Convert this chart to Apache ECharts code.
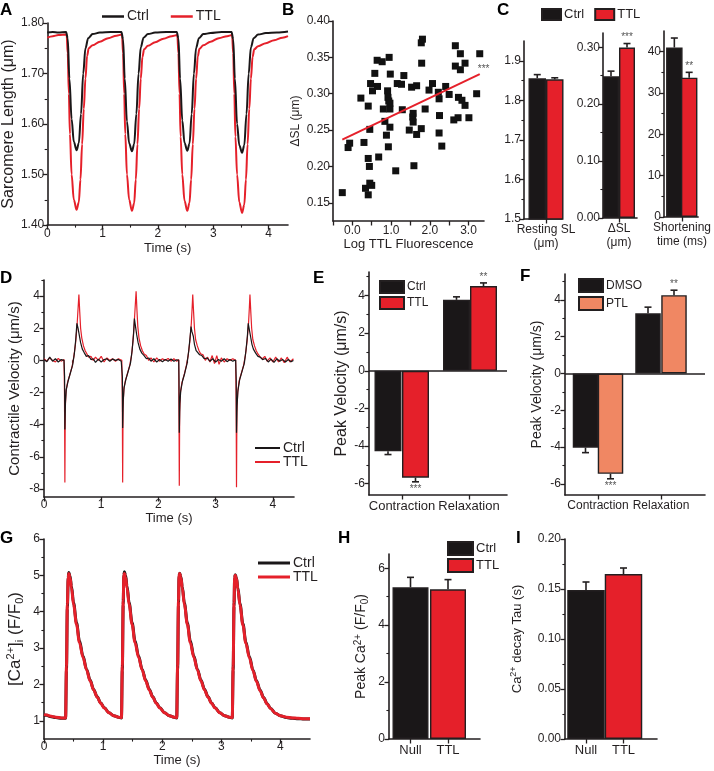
<!DOCTYPE html>
<html><head><meta charset="utf-8">
<script src="https://cdn.jsdelivr.net/npm/echarts@6/dist/echarts.min.js"></script>
<style>html,body{margin:0;padding:0;background:#fff}#c{width:714px;height:771px}</style>
</head><body><div id="c"></div>
<script>
// ================= DATA =================
// A: sarcomere length traces [time s, SL um]
const aCtrl = [[0,1.781],[0.10,1.782],[0.20,1.781],[0.34,1.782],[0.37,1.770],[0.40,1.69],[0.44,1.61],[0.48,1.565],[0.53,1.548],[0.57,1.562],[0.61,1.62],[0.65,1.70],[0.69,1.75],[0.74,1.770],[0.82,1.778],[0.95,1.781],[1.15,1.782],[1.34,1.782],
[1.37,1.768],[1.40,1.69],[1.44,1.605],[1.48,1.562],[1.53,1.546],[1.57,1.560],[1.61,1.62],[1.65,1.70],[1.69,1.752],[1.74,1.771],[1.82,1.778],[1.95,1.781],[2.15,1.782],[2.34,1.782],
[2.37,1.770],[2.40,1.69],[2.44,1.607],[2.48,1.563],[2.53,1.547],[2.57,1.561],[2.61,1.62],[2.65,1.70],[2.69,1.751],[2.74,1.770],[2.82,1.778],[2.95,1.780],[3.15,1.782],[3.33,1.782],
[3.36,1.768],[3.39,1.69],[3.43,1.60],[3.47,1.558],[3.52,1.543],[3.56,1.558],[3.60,1.62],[3.64,1.70],[3.68,1.752],[3.73,1.770],[3.81,1.777],[3.95,1.780],[4.15,1.781],[4.35,1.783]];
const aTTL = [[0,1.771],[0.10,1.774],[0.20,1.776],[0.35,1.777],[0.37,1.74],[0.39,1.66],[0.41,1.58],[0.44,1.50],[0.48,1.45],[0.53,1.430],[0.57,1.445],[0.60,1.49],[0.63,1.56],[0.66,1.63],[0.69,1.69],[0.72,1.735],[0.75,1.750],[0.82,1.756],[0.95,1.763],[1.10,1.770],[1.25,1.775],[1.35,1.777],
[1.37,1.74],[1.39,1.66],[1.41,1.58],[1.44,1.50],[1.48,1.45],[1.53,1.428],[1.57,1.443],[1.60,1.49],[1.63,1.56],[1.66,1.63],[1.69,1.69],[1.72,1.733],[1.75,1.748],[1.82,1.755],[1.95,1.762],[2.10,1.769],[2.25,1.774],[2.35,1.776],
[2.37,1.74],[2.39,1.66],[2.41,1.575],[2.44,1.50],[2.48,1.448],[2.53,1.428],[2.57,1.444],[2.60,1.49],[2.63,1.56],[2.66,1.63],[2.69,1.69],[2.72,1.734],[2.75,1.749],[2.82,1.756],[2.95,1.763],[3.10,1.770],[3.25,1.774],[3.34,1.776],
[3.36,1.74],[3.38,1.66],[3.40,1.575],[3.43,1.50],[3.47,1.445],[3.52,1.424],[3.56,1.440],[3.59,1.49],[3.62,1.56],[3.65,1.63],[3.68,1.69],[3.71,1.733],[3.74,1.748],[3.81,1.754],[3.95,1.760],[4.10,1.766],[4.25,1.771],[4.35,1.774]];

// B: scatter
const bLogTTL = [-0.26,-0.11,-0.07,0.22,0.30,0.34,0.41,0.41,0.41,0.44,0.45,0.47,0.45,0.50,0.52,0.58,0.64,0.65,0.68,0.77,0.80,0.84,0.88,0.91,0.92,0.93,0.95,0.94,0.97,0.98,0.97,0.97,1.12,1.16,1.27,1.29,1.33,1.47,1.53,1.56,1.57,1.59,1.57,1.66,1.66,1.78,1.78,1.81,1.79,1.88,1.98,2.07,2.22,2.24,2.25,2.24,2.31,2.41,2.50,2.62,2.66,2.66,2.73,2.74,2.79,2.79,2.83,2.91,2.91,3.01,3.29,3.21];
const bDeltaSL = [0.164,0.226,0.232,0.294,0.233,0.170,0.161,0.211,0.283,0.200,0.251,0.314,0.177,0.174,0.304,0.328,0.346,0.310,0.213,0.344,0.279,0.262,0.243,0.304,0.295,0.227,0.350,0.290,0.279,0.327,0.254,0.287,0.194,0.314,0.313,0.278,0.325,0.250,0.309,0.268,0.273,0.201,0.261,0.244,0.311,0.252,0.370,0.375,0.342,0.279,0.305,0.314,0.302,0.293,0.270,0.246,0.228,0.310,0.299,0.264,0.366,0.338,0.267,0.295,0.355,0.333,0.291,0.342,0.284,0.267,0.355,0.300];
const bFit = [[-0.26,0.237],[3.29,0.327]];
const bFitSig = '***';

// C: bar summaries
const cMeasures = ['Resting SL\n(μm)', 'ΔSL\n(μm)', 'Shortening\ntime (ms)'];
const cCtrl = [1.856, 0.249, 41.0];
const cCtrlErr = [0.009, 0.009, 2.3];
const cTTL = [1.853, 0.2995, 33.7];
const cTTLErr = [0.004, 0.007, 1.3];
const cSig = ['', '***', '**'];

// D: contractile velocity traces [time s, um/s]
const dCtrl = [[0,0.05],[0.05,-0.08],[0.1,0.2],[0.15,-0.05],[0.2,0.1],[0.25,-0.1],[0.3,0.05],[0.35,0.0],
[0.36,-1.0],[0.365,-4.3],[0.375,-2.6],[0.39,-1.8],[0.42,-1.3],[0.46,-0.8],[0.50,-0.3],[0.53,0.4],[0.555,1.3],[0.575,2.3],[0.595,2.0],[0.615,1.6],[0.64,1.1],[0.67,0.7],[0.70,0.5],[0.74,0.25],[0.78,0.3],[0.82,0.05],[0.86,0.1],[0.9,-0.12],[0.95,0.08],[1.0,-0.1],[1.05,0.05],[1.1,0.1],[1.15,-0.06],[1.2,0.08],[1.25,0.0],[1.3,0.06],[1.35,-0.05],
[1.37,-1.0],[1.375,-4.2],[1.385,-2.5],[1.40,-1.7],[1.43,-1.2],[1.47,-0.7],[1.51,-0.2],[1.54,0.6],[1.565,1.6],[1.58,2.6],[1.60,2.1],[1.62,1.6],[1.645,1.1],[1.675,0.7],[1.71,0.45],[1.75,0.3],[1.79,0.1],[1.83,0.15],[1.87,-0.05],[1.92,0.1],[1.97,-0.1],[2.02,0.05],[2.07,-0.08],[2.12,0.06],[2.17,-0.05],[2.22,0.08],[2.27,-0.06],[2.32,0.04],[2.355,0.0],
[2.36,-1.2],[2.365,-4.5],[2.375,-2.7],[2.39,-1.9],[2.42,-1.3],[2.46,-0.8],[2.50,-0.2],[2.53,0.6],[2.555,1.5],[2.57,2.1],[2.585,1.8],[2.61,1.5],[2.63,1.0],[2.66,0.6],[2.69,0.7],[2.72,0.35],[2.76,0.3],[2.80,0.1],[2.85,0.15],[2.9,-0.05],[2.95,0.1],[3.0,-0.1],[3.05,0.05],[3.1,-0.05],[3.15,0.1],[3.2,-0.08],[3.25,0.05],[3.3,-0.05],[3.35,0.02],
[3.36,-1.2],[3.365,-4.5],[3.375,-2.8],[3.39,-1.9],[3.42,-1.2],[3.46,-0.7],[3.50,-0.2],[3.53,0.6],[3.555,1.5],[3.57,2.3],[3.59,1.9],[3.61,1.5],[3.635,1.0],[3.66,0.7],[3.70,0.45],[3.74,0.25],[3.78,0.2],[3.82,0.05],[3.87,0.12],[3.92,-0.1],[3.97,0.08],[4.02,-0.12],[4.07,0.1],[4.12,-0.05],[4.17,0.06],[4.22,-0.1],[4.27,0.05],[4.32,-0.08],[4.36,0.0]];
const dTTL = [[0,0.1],[0.05,-0.05],[0.1,0.15],[0.15,0.0],[0.2,-0.1],[0.25,0.12],[0.3,-0.05],[0.35,0.05],
[0.358,-2.0],[0.365,-7.6],[0.372,-3.0],[0.385,-1.9],[0.41,-1.4],[0.45,-0.9],[0.49,-0.4],[0.52,0.2],[0.55,1.0],[0.575,2.0],[0.595,3.2],[0.61,4.1],[0.625,3.0],[0.64,2.0],[0.66,1.4],[0.69,0.9],[0.72,0.6],[0.75,0.5],[0.78,0.2],[0.82,0.25],[0.86,0.0],[0.9,0.2],[0.95,0.0],[1.0,0.25],[1.05,-0.1],[1.1,0.15],[1.15,0.0],[1.2,0.1],[1.25,-0.05],[1.3,0.1],[1.36,0.0],
[1.368,-2.0],[1.375,-7.6],[1.382,-3.0],[1.395,-1.8],[1.42,-1.3],[1.46,-0.8],[1.50,-0.3],[1.53,0.3],[1.555,1.2],[1.575,2.2],[1.595,3.4],[1.61,4.3],[1.625,3.1],[1.64,2.1],[1.66,1.4],[1.69,0.9],[1.72,0.6],[1.75,0.4],[1.79,0.3],[1.83,0.0],[1.87,0.15],[1.92,-0.1],[1.97,0.15],[2.02,-0.05],[2.07,0.1],[2.12,0.0],[2.17,0.12],[2.22,-0.05],[2.27,0.1],[2.32,-0.05],[2.355,0.05],
[2.358,-2.2],[2.365,-7.8],[2.372,-3.2],[2.385,-2.0],[2.41,-1.4],[2.45,-0.9],[2.49,-0.3],[2.52,0.3],[2.55,1.2],[2.575,2.3],[2.59,3.3],[2.60,4.1],[2.615,3.0],[2.63,2.0],[2.65,1.3],[2.68,0.9],[2.71,0.6],[2.74,0.4],[2.78,0.35],[2.82,0.0],[2.86,0.2],[2.9,-0.1],[2.94,0.3],[2.98,-0.2],[3.02,0.3],[3.06,-0.25],[3.1,0.15],[3.15,-0.1],[3.2,0.1],[3.25,0.0],[3.3,0.1],[3.35,0.0],
[3.358,-2.2],[3.365,-7.9],[3.372,-3.2],[3.385,-2.0],[3.41,-1.3],[3.45,-0.8],[3.49,-0.3],[3.52,0.3],[3.55,1.2],[3.575,2.3],[3.59,3.3],[3.60,4.1],[3.615,3.0],[3.63,2.0],[3.65,1.3],[3.68,0.9],[3.71,0.6],[3.74,0.4],[3.78,0.2],[3.82,0.1],[3.86,0.25],[3.9,-0.05],[3.95,0.15],[4.0,-0.1],[4.05,0.2],[4.1,-0.1],[4.15,0.15],[4.2,-0.15],[4.25,0.2],[4.3,-0.1],[4.36,0.1]];

// E: peak velocity (Ctrl vs TTL)
const eCategories = ['Contraction', 'Relaxation'];
const eCtrl = [-4.28, 3.77];
const eCtrlErr = [0.17, 0.16];
const eTTL = [-5.68, 4.5];
const eTTLErr = [0.22, 0.17];
const eSig = ['***', '**'];

// F: peak velocity (DMSO vs PTL)
const fCategories = ['Contraction', 'Relaxation'];
const fDMSO = [-4.03, 3.27];
const fDMSOErr = [0.27, 0.33];
const fPTL = [-5.45, 4.25];
const fPTLErr = [0.27, 0.27];
const fSig = ['***', '**'];

// G: calcium transients [time s, F/F0]
const gCtrl = [[0,1.16],[0.05,1.15],[0.1,1.12],[0.2,1.09],[0.3,1.07],[0.365,1.07],[0.38,2.4],[0.395,4.1],[0.41,4.95],[0.42,5.08],[0.44,4.98],[0.465,4.7],[0.50,4.25],[0.55,3.7],[0.60,3.2],[0.66,2.78],[0.72,2.42],[0.78,2.12],[0.84,1.86],[0.90,1.66],[0.96,1.49],[1.02,1.36],[1.1,1.22],[1.18,1.14],[1.26,1.1],[1.31,1.08],
[1.325,2.4],[1.34,4.2],[1.35,5.0],[1.36,5.1],[1.38,5.0],[1.405,4.7],[1.44,4.25],[1.49,3.7],[1.54,3.2],[1.60,2.78],[1.66,2.42],[1.72,2.12],[1.78,1.87],[1.84,1.66],[1.90,1.49],[1.96,1.36],[2.04,1.22],[2.12,1.14],[2.20,1.1],[2.245,1.08],
[2.26,2.4],[2.275,4.2],[2.285,4.98],[2.295,5.06],[2.315,4.97],[2.34,4.68],[2.375,4.24],[2.425,3.69],[2.475,3.2],[2.535,2.78],[2.595,2.42],[2.655,2.12],[2.715,1.87],[2.775,1.66],[2.835,1.49],[2.895,1.36],[2.975,1.22],[3.055,1.14],[3.135,1.1],[3.185,1.08],
[3.2,2.4],[3.215,4.15],[3.225,4.93],[3.235,5.02],[3.255,4.94],[3.28,4.65],[3.315,4.22],[3.365,3.67],[3.415,3.17],[3.475,2.76],[3.535,2.4],[3.595,2.1],[3.655,1.85],[3.715,1.64],[3.775,1.47],[3.835,1.34],[3.915,1.21],[3.995,1.14],[4.1,1.09],[4.2,1.07],[4.3,1.06],[4.4,1.05],[4.5,1.05]];
const gTTL = [[0,1.17],[0.05,1.16],[0.1,1.13],[0.2,1.10],[0.3,1.08],[0.365,1.08],[0.38,2.5],[0.395,4.2],[0.41,4.95],[0.42,5.05],[0.44,4.95],[0.465,4.65],[0.50,4.2],[0.55,3.65],[0.60,3.15],[0.66,2.75],[0.72,2.4],[0.78,2.1],[0.84,1.85],[0.90,1.65],[0.96,1.48],[1.02,1.35],[1.1,1.22],[1.18,1.14],[1.26,1.1],[1.31,1.09],
[1.325,2.5],[1.34,4.3],[1.35,5.0],[1.36,5.05],[1.38,4.95],[1.405,4.65],[1.44,4.2],[1.49,3.65],[1.54,3.15],[1.60,2.75],[1.66,2.4],[1.72,2.1],[1.78,1.85],[1.84,1.65],[1.90,1.48],[1.96,1.35],[2.04,1.22],[2.12,1.14],[2.20,1.1],[2.245,1.09],
[2.26,2.5],[2.275,4.3],[2.285,5.0],[2.295,5.05],[2.315,4.95],[2.34,4.65],[2.375,4.2],[2.425,3.65],[2.475,3.15],[2.535,2.75],[2.595,2.4],[2.655,2.1],[2.715,1.85],[2.775,1.65],[2.835,1.48],[2.895,1.35],[2.975,1.22],[3.055,1.14],[3.135,1.1],[3.185,1.09],
[3.2,2.5],[3.215,4.25],[3.225,4.95],[3.235,5.0],[3.255,4.92],[3.28,4.62],[3.315,4.18],[3.365,3.63],[3.415,3.13],[3.475,2.73],[3.535,2.38],[3.595,2.08],[3.655,1.83],[3.715,1.63],[3.775,1.46],[3.835,1.33],[3.915,1.21],[3.995,1.14],[4.1,1.1],[4.2,1.08],[4.3,1.07],[4.4,1.06],[4.5,1.06]];

// H: peak Ca2+
const hCategories = ['Null', 'TTL'];
const hPeak = [5.33, 5.26];
const hPeakErr = [0.35, 0.34];

// I: Ca2+ decay tau
const iCategories = ['Null', 'TTL'];
const iTau = [0.149, 0.165];
const iTauErr = [0.008, 0.006];

// ================= STYLE / LAYOUT =================
const INK = '#231F20', RED = '#E5202A', SALMON = '#F08763', BLK = '#1A1718';
const REG = "'Liberation Sans',Arial,Helvetica,sans-serif";
const NARROW = REG;

const grids = [], xAxis = [], yAxis = [], series = [], legend = [], title = [];

function grid(l, t, w, h) { grids.push({left: l, top: t, width: w, height: h}); return grids.length - 1; }

function axis(dim, g, min, max, major, minor, o) {
  o = o || {};
  const arr = dim === 'x' ? xAxis : yAxis;
  const pos = dim === 'x' ? 'bottom' : 'left';
  const a = {
    type: 'value', gridIndex: g, min: min, max: max, position: pos,
    axisLine: {show: true, onZero: false, lineStyle: {color: INK, width: 1.6}},
    axisTick: {show: true, length: 4.5, customValues: major, lineStyle: {color: INK, width: 1.3}},
    minorTick: {show: false}, splitLine: {show: false},
    axisLabel: {show: !o.noLabels, customValues: o.labelValues || major, color: INK, fontFamily: NARROW,
      fontSize: o.fs || 12, margin: o.margin == null ? 3 : o.margin, formatter: o.fmt, lineHeight: o.lh,
      hideOverlap: false, showMinLabel: true, showMaxLabel: true}
  };
  if (o.name) {
    a.name = o.name; a.nameLocation = 'middle'; a.nameGap = o.gap;
    a.nameTextStyle = Object.assign({color: INK, fontFamily: REG, fontSize: o.nfs || 13}, o.nts || {});
  }
  arr.push(a);
  const idx = arr.length - 1;
  if (minor) {
    arr.push({type: 'value', gridIndex: g, min: min, max: max, position: pos,
      axisLine: {show: false}, axisLabel: {show: false}, splitLine: {show: false}, minorTick: {show: false},
      axisTick: {show: true, length: 2.6, customValues: minor, lineStyle: {color: INK, width: 1.1}}});
  }
  return idx;
}

function line(name, xi, yi, data, color, width, smooth) {
  series.push({name: name, type: 'line', xAxisIndex: xi, yAxisIndex: yi, data: data, symbol: 'none', showSymbol: false,
    smooth: smooth ? 0.35 : false, smoothMonotone: smooth ? 'x' : undefined,
    lineStyle: {color: color, width: width}, itemStyle: {color: color}, silent: true});
}

function bars(name, xi, yi, pos, vals, color, w, extra) {
  series.push(Object.assign({name: name, type: 'bar', xAxisIndex: xi, yAxisIndex: yi, barWidth: w, barGap: '-100%',
    data: vals.map((v, i) => [pos[i], v]), silent: true,
    itemStyle: {color: color, borderColor: INK, borderWidth: 1.4}}, extra || {}));
}

function errs(xi, yi, pos, vals, err, sig) {
  series.push({type: 'custom', xAxisIndex: xi, yAxisIndex: yi, z: 5, silent: true,
    data: vals.map((v, i) => [pos[i], v, v < 0 ? v - err[i] : v + err[i]]),
    renderItem: function (params, api) {
      const p0 = api.coord([api.value(0), api.value(1)]);
      const p1 = api.coord([api.value(0), api.value(2)]);
      const up = p1[1] < p0[1];
      const ch = [
        {type: 'line', shape: {x1: p0[0], y1: p0[1], x2: p1[0], y2: p1[1]}, style: {stroke: INK, lineWidth: 1.6}},
        {type: 'line', shape: {x1: p1[0] - 3.5, y1: p1[1], x2: p1[0] + 3.5, y2: p1[1]}, style: {stroke: INK, lineWidth: 1.6}}
      ];
      const s = sig ? sig[params.dataIndex] : '';
      if (s) ch.push({type: 'text', x: p1[0], y: up ? p1[1] - 1 : p1[1] + 2,
        style: {text: s, fill: '#555', font: '10px ' + REG, align: 'center', verticalAlign: up ? 'bottom' : 'top'}});
      return {type: 'group', children: ch};
    }});
}

function lg(o) {
  legend.push(Object.assign({show: true, selectedMode: false, padding: 0, formatter: n => n.slice(2),
    textStyle: {fontFamily: NARROW, fontSize: o.fs || 13, color: INK, lineHeight: o.lh || 15, padding: [0, 0, 0, -2]}}, o));
}

function letter(t, l, top) {
  title.push({text: t, left: l, top: top, padding: 0,
    textStyle: {fontFamily: REG, fontWeight: 'bold', fontSize: 17, color: '#000'}});
}

const range = (a, b, s) => { const r = []; for (let v = a; v <= b + 1e-9; v += s) r.push(Math.round(v * 1000) / 1000); return r; };
const labelMap = (pos, names) => (v => { const i = pos.findIndex(p => Math.abs(p - v) < 1e-6); return i < 0 ? '' : names[i]; });

// ---------- Panel A ----------
letter('A', 0, 2);
const gA = grid(42, 23, 246, 202);
const axA = axis('x', gA, 0, 4.35, [0,1,2,3,4], [0.5,1.5,2.5,3.5], {name: 'Time (s)', gap: 17, margin: 3});
const ayA = axis('y', gA, 1.40, 1.80, [1.4,1.5,1.6,1.7,1.8], [1.45,1.55,1.65,1.75],
  {fmt: v => v.toFixed(2), name: 'Sarcomere Length (μm)', gap: 29, nfs: 16});
line('A_TTL', axA, ayA, aTTL, RED, 2, true);
line('A_Ctrl', axA, ayA, aCtrl, BLK, 2, true);
lg({left: 102, top: 9, icon: 'rect', itemWidth: 22, itemHeight: 2.5, itemGap: 22, fs: 14, data: ['A_Ctrl', 'A_TTL']});

// ---------- Panel B ----------
letter('B', 282, 2);
const gB = grid(333, 21, 151, 200);
const axB = axis('x', gB, -0.5, 3.4, range(-0.5, 3.0, 0.5), null,
  {labelValues: [0,1,2,3], fmt: v => v.toFixed(1), name: 'Log TTL Fluorescence', gap: 13, margin: 4});
const ayB = axis('y', gB, 0.125, 0.40, range(0.15, 0.40, 0.05), null,
  {fmt: v => v.toFixed(2), name: 'ΔSL (μm)', gap: 31, nfs: 12});
series.push({type: 'scatter', xAxisIndex: axB, yAxisIndex: ayB, symbol: 'rect', symbolSize: 7, silent: true,
  data: bLogTTL.map((x, i) => [x, bDeltaSL[i]]), itemStyle: {color: '#111', opacity: 1}});
series.push({type: 'line', xAxisIndex: axB, yAxisIndex: ayB, data: bFit, symbol: 'none', silent: true, z: 4,
  lineStyle: {color: RED, width: 2},
  endLabel: {show: true, formatter: bFitSig, color: '#555', fontSize: 10, fontFamily: REG, offset: [-10, -5]}});

// ---------- Panel C ----------
letter('C', 497, 2);
const cCfg = [
  {l: 524, t: 41, w: 38, h: 178, min: 1.5, max: 1.95, major: [1.5,1.6,1.7,1.8,1.9], minor: [1.55,1.65,1.75,1.85], fmt: v => v.toFixed(1), pos: [13.25, 30.75], tick: 22, bw: 17.5},
  {l: 603, t: 33, w: 34, h: 185, min: 0, max: 0.325, major: [0,0.1,0.2,0.3], minor: [0.05,0.15,0.25], fmt: v => v.toFixed(2), pos: [8, 24], tick: 16, bw: 16},
  {l: 664, t: 31, w: 38, h: 186, min: 0, max: 45, major: [0,10,20,30,40], minor: [5,15,25,35], fmt: v => String(v), pos: [11.5, 28], tick: 20, bw: 16.5}
];
cCfg.forEach((c, k) => {
  const g = grid(c.l, c.t, c.w, c.h);
  const xi = axis('x', g, 0, c.w, [c.tick], null, {fmt: () => cMeasures[k], lh: 14, margin: 4, fs: 12});
  const yi = axis('y', g, c.min, c.max, c.major, c.minor, {fmt: c.fmt, fs: 12});
  bars('C_Ctrl', xi, yi, [c.pos[0]], [cCtrl[k]], BLK, c.bw);
  bars('C_TTL', xi, yi, [c.pos[1]], [cTTL[k]], RED, c.bw);
  errs(xi, yi, [c.pos[0]], [cCtrl[k]], [cCtrlErr[k]], null);
  errs(xi, yi, [c.pos[1]], [cTTL[k]], [cTTLErr[k]], [cSig[k]]);
});
lg({left: 541, top: 7, icon: 'rect', itemWidth: 19, itemHeight: 11, itemGap: 10, fs: 13, data: ['C_Ctrl', 'C_TTL']});

// ---------- Panel D ----------
letter('D', 0, 270);
const gD = grid(44, 280, 250, 217);
const axD = axis('x', gD, 0, 4.37, [0,1,2,3,4], [0.5,1.5,2.5,3.5], {name: 'Time (s)', gap: 15, margin: 2});
const ayD = axis('y', gD, -8.5, 5, [-8,-6,-4,-2,0,2,4], [-7,-5,-3,-1,1,3,5],
  {name: 'Contractile Velocity (μm/s)', gap: 22, nfs: 15, margin: 4, fs: 12});
line('D_TTL', axD, ayD, dTTL, RED, 1.2, false);
line('D_Ctrl', axD, ayD, dCtrl, BLK, 1.2, false);
lg({left: 255, top: 441, orient: 'vertical', icon: 'rect', itemWidth: 25, itemHeight: 2, itemGap: 0, fs: 14, lh: 13, data: ['D_Ctrl', 'D_TTL']});

// ---------- Panel E ----------
letter('E', 313, 270);
const gE = grid(369, 272, 138, 223);
const eTicks = [33, 100];
const axE = axis('x', gE, 0, 138, eTicks, null, {fmt: labelMap(eTicks, eCategories), fs: 13, margin: 5});
const ayE = axis('y', gE, -6.6, 5.25, [-6,-4,-2,0,2,4], [-5,-3,-1,1,3,5],
  {name: 'Peak Velocity (μm/s)', gap: 19, nfs: 16, fs: 12, margin: 4});
bars('E_Ctrl', axE, ayE, [19, 87.5], eCtrl, BLK, 27,
  {markLine: {silent: true, symbol: ['none', 'none'], label: {show: false}, lineStyle: {color: INK, width: 1.5, type: 'solid'}, data: [{yAxis: 0}]}});
bars('E_TTL', axE, ayE, [46.5, 114.5], eTTL, RED, 27);
errs(axE, ayE, [19, 87.5], eCtrl, eCtrlErr, null);
errs(axE, ayE, [46.5, 114.5], eTTL, eTTLErr, eSig);
lg({left: 379, top: 280, orient: 'vertical', icon: 'rect', itemWidth: 24, itemHeight: 12, itemGap: 2, fs: 12, lh: 13, data: ['E_Ctrl', 'E_TTL']});

// ---------- Panel F ----------
letter('F', 520, 268);
const gF = grid(565, 274, 140, 221);
const fTicks = [33, 96];
const axF = axis('x', gF, 0, 140, fTicks, null, {fmt: labelMap(fTicks, fCategories), fs: 12, margin: 5});
const ayF = axis('y', gF, -6.6, 5.4, [-6,-4,-2,0,2,4], [-5,-3,-1,1,3,5],
  {name: 'Peak Velocity (μm/s)', gap: 21, nfs: 14, fs: 12, margin: 4});
bars('F_DMSO', axF, ayF, [20.5, 83], fDMSO, BLK, 25.5,
  {markLine: {silent: true, symbol: ['none', 'none'], label: {show: false}, lineStyle: {color: INK, width: 1.5, type: 'solid'}, data: [{yAxis: 0}]}});
bars('F_PTL', axF, ayF, [45.5, 109], fPTL, SALMON, 25.5);
errs(axF, ayF, [20.5, 83], fDMSO, fDMSOErr, null);
errs(axF, ayF, [45.5, 109], fPTL, fPTLErr, fSig);
lg({left: 578, top: 278, orient: 'vertical', icon: 'rect', itemWidth: 24, itemHeight: 13, itemGap: 3, fs: 12, lh: 13, data: ['F_DMSO', 'F_PTL']});

// ---------- Panel G ----------
letter('G', 0, 530);
const gG = grid(44, 539, 266, 200);
const axG = axis('x', gG, 0, 4.5, [0,1,2,3,4], [0.5,1.5,2.5,3.5], {name: 'Time (s)', gap: 12, margin: 2});
const ayG = axis('y', gG, 0.5, 6, [1,2,3,4,5,6], [1.5,2.5,3.5,4.5,5.5],
  {name: '[Ca{sup|2+}]{sub|i} (F/F{sub|0})', gap: 19, nfs: 17, margin: 4,
   nts: {lineHeight: 20, rich: {sup: {fontSize: 11, lineHeight: 12, verticalAlign: 'top', fontFamily: REG, color: INK},
                                sub: {fontSize: 11, lineHeight: 12, verticalAlign: 'bottom', fontFamily: REG, color: INK}}}});
line('G_Ctrl', axG, ayG, gCtrl, BLK, 3, true);
line('G_TTL', axG, ayG, gTTL, RED, 3, true);
lg({left: 258, top: 556, orient: 'vertical', icon: 'rect', itemWidth: 32, itemHeight: 3, itemGap: 0, fs: 14, lh: 13, data: ['G_Ctrl', 'G_TTL']});

// ---------- Panel H ----------
letter('H', 338, 530);
const gH = grid(389, 554, 91, 185);
const hPos = [21.5, 59];
const axH = axis('x', gH, 0, 91, hPos, null, {fmt: labelMap(hPos, hCategories), fs: 13, margin: 5});
const ayH = axis('y', gH, 0, 6.5, [0,2,4,6], [1,3,5],
  {name: 'Peak Ca{sup|2+} (F/F{sub|0})', gap: 19, nfs: 14, fs: 12, margin: 4,
   nts: {lineHeight: 17, rich: {sup: {fontSize: 10, lineHeight: 10, verticalAlign: 'top', fontFamily: REG, color: INK},
                                sub: {fontSize: 10, lineHeight: 10, verticalAlign: 'bottom', fontFamily: REG, color: INK}}}});
bars('H_Ctrl', axH, ayH, [hPos[0]], [hPeak[0]], BLK, 36);
bars('H_TTL', axH, ayH, [hPos[1]], [hPeak[1]], RED, 36);
errs(axH, ayH, hPos, hPeak, hPeakErr, null);
lg({left: 447, top: 541, orient: 'vertical', icon: 'rect', itemWidth: 25, itemHeight: 13, itemGap: 2, fs: 13, lh: 13, data: ['H_Ctrl', 'H_TTL']});

// ---------- Panel I ----------
letter('I', 516, 530);
const gI = grid(565, 539, 92, 200);
const iPos = [21, 58.5];
const axI = axis('x', gI, 0, 92, iPos, null, {fmt: labelMap(iPos, iCategories), fs: 13, margin: 5});
const ayI = axis('y', gI, 0, 0.20, [0,0.05,0.1,0.15,0.2], [0.025,0.075,0.125,0.175],
  {fmt: v => v.toFixed(2), name: 'Ca{sup|2+} decay Tau (s)', gap: 40, nfs: 13, fs: 12, margin: 4,
   nts: {lineHeight: 16, rich: {sup: {fontSize: 9, lineHeight: 9, verticalAlign: 'top', fontFamily: REG, color: INK}}}});
bars('I_Ctrl', axI, ayI, [iPos[0]], [iTau[0]], BLK, 37.5);
bars('I_TTL', axI, ayI, [iPos[1]], [iTau[1]], RED, 37.5);
errs(axI, ayI, iPos, iTau, iTauErr, null);

// ================= RENDER =================
const chart = echarts.init(document.getElementById('c'), null, {renderer: 'canvas'});
chart.setOption({
  backgroundColor: '#fff', animation: false,
  title: title, grid: grids, xAxis: xAxis, yAxis: yAxis, legend: legend, series: series
});
</script></body></html>
